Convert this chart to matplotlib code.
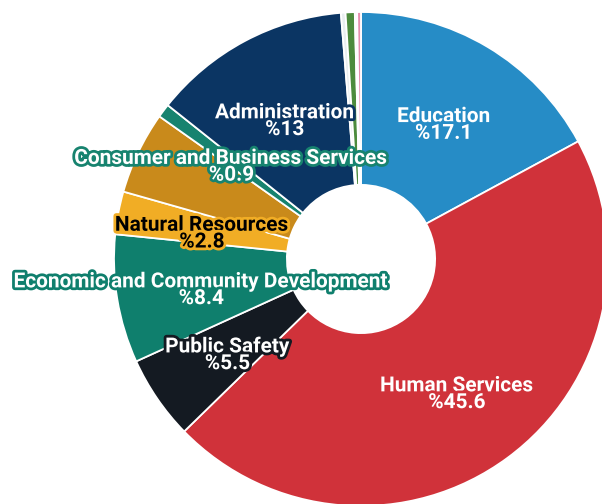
"""
Donut chart of spending share by function area
"""
import numpy as np
import matplotlib.pyplot as plt
import matplotlib.patheffects as pe

plt.rcParams['font.family'] = ['Roboto', 'DejaVu Sans']

# Slices, clockwise from 12 o'clock (None = no label drawn)
categories = ['Education', 'Human Services', 'Public Safety',
              'Economic and Community Development', 'Natural Resources',
              None, 'Consumer and Business Services', 'Administration',
              None, None, None, None]
shares = [17.1, 45.6, 5.5, 8.4, 2.8, 5.4, 0.9, 13.0, 0.3, 0.6, 0.15, 0.25]
colors = ['#268cc6', '#d0323a', '#141a22', '#0f7f6d', '#f1ad25',
          '#c98a1b', '#17836f', '#0b3563', '#e9eef0', '#4d8b3d',
          '#f5f5f5', '#e78fae']
text_colors = ['white', 'white', 'white', 'white', 'black',
               None, 'white', 'white', None, None, None, None]

fig = plt.figure(figsize=(6.02, 5.04), dpi=100)
W, H = 602, 504
cx, cy, R = 361, 504 - 259, 247
ax = fig.add_axes([(cx - R) / W, (cy - R) / H, 2 * R / W, 2 * R / H])

wedges, _ = ax.pie(shares, colors=colors, startangle=90, counterclock=False,
                   radius=1.0,
                   wedgeprops=dict(width=0.70, edgecolor='white', linewidth=1.3))
ax.set_xlim(-1, 1)
ax.set_ylim(-1, 1)
ax.set_aspect('equal')
ax.axis('off')

# Labels at the middle of each wedge
for w, name, val, col, tcol in zip(wedges, categories, shares, colors, text_colors):
    if name is None:
        continue
    ang = np.deg2rad((w.theta1 + w.theta2) / 2)
    x, y = 0.655 * np.cos(ang), 0.655 * np.sin(ang) - 0.02
    ax.text(x, y, f'{name}\n%{val:g}', ha='center', va='center',
            fontsize=15, fontweight='bold', color=tcol, linespacing=0.85,
            path_effects=[pe.withStroke(linewidth=4, foreground=col)],
            clip_on=False)

plt.savefig('out.png', dpi=100)
plt.close()
